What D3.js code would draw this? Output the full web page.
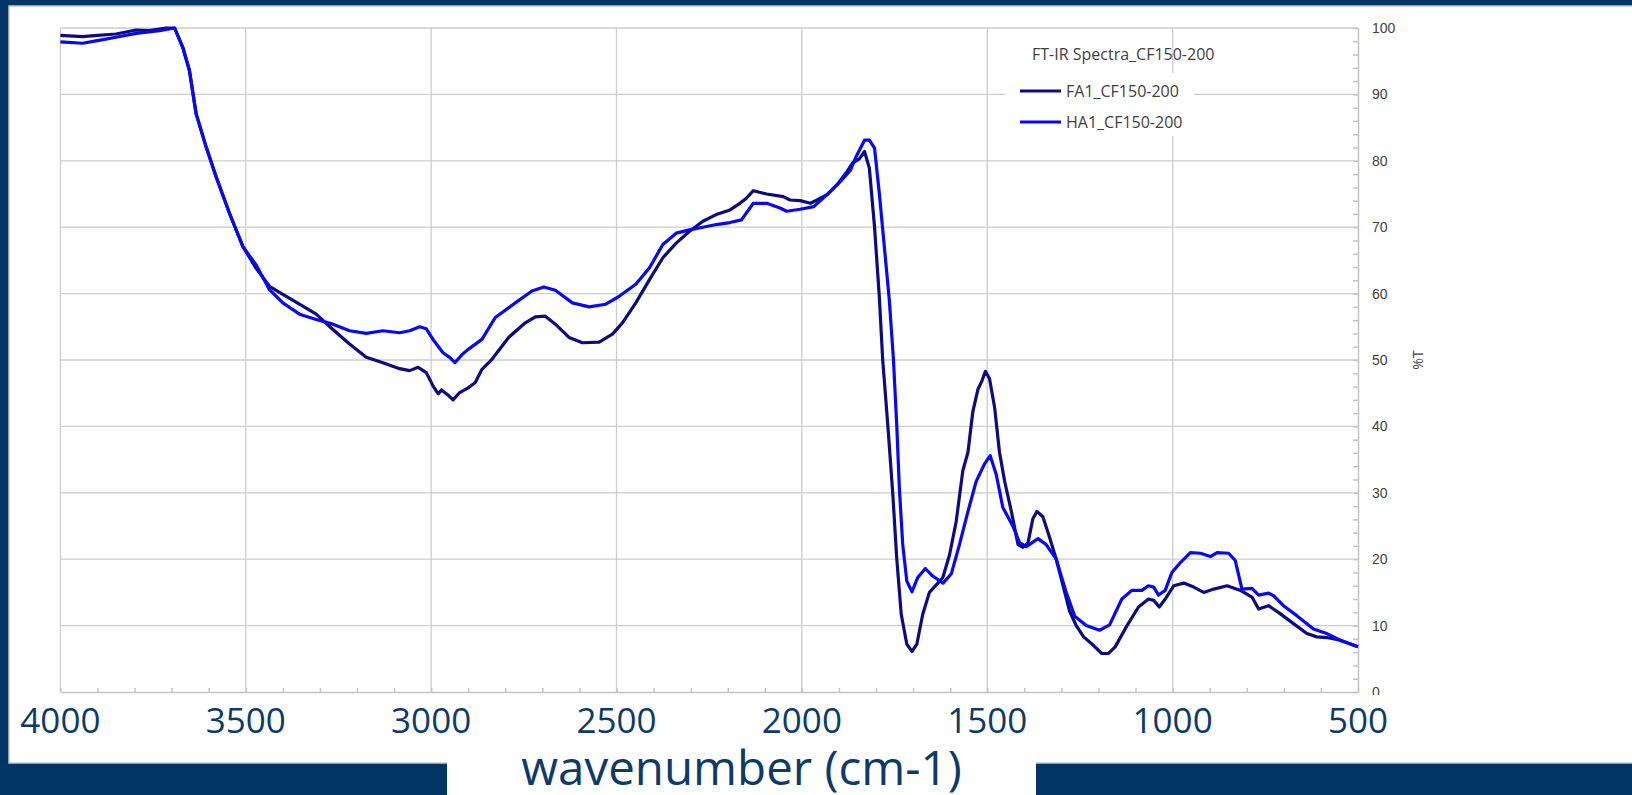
<!DOCTYPE html>
<html>
<head>
<meta charset="utf-8">
<title>FT-IR Spectra_CF150-200</title>
<script src="https://cdn.jsdelivr.net/npm/d3@7"></script>
<style>
  body { margin: 0; background: #003566; }
  svg { display: block; font-family: "Open Sans", sans-serif; }
</style>
</head>
<body>
<div id="chart"></div>
<script>
// ---- data ----
var faWavenumber = [4000,3940,3900,3850,3796,3760,3715,3692,3670,3652,3634,3607,3580,3544,3508,3472,3436,3400,3346,3310,
  3265,3220,3175,3130,3085,3058,3035,3013,2995,2981,2972,2954,2941,2923,2900,2881,2863,2836,2791,2746,
  2719,2692,2665,2628,2592,2547,2511,2484,2448,2411,2375,2339,2303,2267,2231,2194,2167,2149,2131,2095,
  2050,2032,2005,1977,1959,1932,1905,1878,1863,1845,1831,1818,1804,1791,1782,1768,1755,1744,1732,1717,
  1703,1690,1674,1656,1638,1620,1602,1584,1566,1552,1539,1525,1514,1505,1494,1480,1467,1453,1435,1417,
  1404,1390,1377,1366,1350,1332,1314,1296,1278,1260,1240,1213,1191,1173,1155,1123,1092,1065,1051,1036,
  1020,997,970,943,916,889,853,817,786,768,741,710,674,638,611,584,548,500];
var faTransmittance = [98.9,98.7,98.9,99.1,99.7,99.6,100,100,97.1,93.6,87.1,82.1,77.6,72.1,67.1,63.8,61.1,59.9,58.1,56.9,
  54.6,52.4,50.4,49.6,48.7,48.4,48.9,48.1,46.1,44.9,45.5,44.7,44.0,45.1,45.8,46.6,48.6,50.1,53.4,55.6,
  56.5,56.6,55.4,53.4,52.6,52.7,53.9,55.6,58.6,62.1,65.4,67.6,69.4,70.9,71.9,72.6,73.6,74.4,75.5,75.0,
  74.6,74.1,74.0,73.6,74.1,74.9,76.4,78.4,79.7,80.3,81.4,78.9,70,59.4,50,40,30,20,11.7,7.2,
  6.1,7.2,11.7,15,16.1,17.2,20.6,25.6,33.3,36.1,42.2,45.6,46.9,48.3,47.2,42.8,36.1,31.7,27.2,22.2,
  21.8,22.5,26.1,27.2,26.4,23.3,20,16.1,12.2,10,8.3,7.0,5.8,5.8,6.8,10,12.8,14,13.8,12.8,
  14,16,16.4,15.8,15,15.5,16,15.3,14.3,12.5,13,11.8,10.3,8.8,8.3,8.2,7.8,6.8];

var haWavenumber = [4000,3940,3900,3850,3796,3733,3692,3670,3652,3634,3607,3580,3544,3508,3472,3436,3400,3355,3310,3265,
  3220,3175,3130,3085,3058,3031,3013,2995,2968,2950,2936,2915,2900,2863,2827,2773,2728,2696,2665,2619,
  2574,2529,2493,2448,2411,2375,2339,2303,2267,2231,2194,2163,2131,2095,2059,2041,2005,1968,1932,1896,
  1869,1854,1831,1818,1804,1791,1777,1764,1753,1744,1737,1728,1717,1703,1688,1667,1648,1619,1597,1575,
  1552,1530,1507,1492,1476,1458,1431,1413,1395,1363,1341,1314,1287,1264,1233,1197,1170,1137,1110,1083,
  1065,1051,1038,1020,1002,979,952,925,898,880,849,831,813,786,768,741,728,701,665,620,
  584,548,500];
var haTransmittance = [97.9,97.7,98.1,98.6,99.2,99.6,100,97.1,93.6,87.1,82.1,77.6,72.1,67.1,64.3,60.6,58.6,56.9,56.1,55.4,
  54.4,54.0,54.4,54.1,54.4,55.0,54.7,53.1,51.1,50.4,49.6,50.9,51.6,53.1,56.4,58.6,60.4,61.0,60.5,58.6,
  58.0,58.4,59.6,61.4,63.9,67.4,69.1,69.6,70.0,70.4,70.7,71.1,73.6,73.6,72.9,72.4,72.7,73.1,74.9,76.9,
  78.6,80.6,83.1,83.1,81.9,75,66.7,58.9,50,40,30.6,22.2,16.7,15.1,17.2,18.6,17.5,16.4,17.8,22.2,
  27.2,31.7,34.4,35.6,32.8,27.8,25,22.5,21.9,23.1,22.2,20,15,11.4,10,9.3,10.1,14,15.3,15.3,
  16,15.8,14.6,15.3,18,19.5,21,20.9,20.4,21,20.9,19.8,15.5,15.6,14.6,14.9,14.5,13,11.5,9.5,
  8.8,7.8,6.8];

var seriesNames = ["FA1_CF150-200", "HA1_CF150-200"];
var seriesColors = ["#0c0c80", "#0808f4"];
var xMajorTicks = [4000, 3500, 3000, 2500, 2000, 1500, 1000, 500];
var yMajorTicks = [0, 10, 20, 30, 40, 50, 60, 70, 80, 90, 100];
var chartTitle = "FT-IR Spectra_CF150-200";
var xTitle = "wavenumber (cm-1)";
var yTitle = "%T";

// ---- page frame ----
var W = 1632, H = 795;
var svg = d3.select("#chart").append("svg").attr("width", W).attr("height", H);

svg.append("rect").attr("width", W).attr("height", H).attr("fill", "#003566");
svg.append("rect").attr("x", 9).attr("y", 6).attr("width", W - 9 + 2).attr("height", 757)
  .attr("fill", "#ffffff").attr("stroke", "#c3c8ce").attr("stroke-width", 1.5);
svg.append("rect").attr("x", 447).attr("y", 762).attr("width", 589).attr("height", 40)
  .attr("fill", "#ffffff");

// ---- scales ----
var plotLeft = 60.4, plotRight = 1358, plotTop = 28, plotBottom = 692;
var x = d3.scaleLinear().domain([4000, 500]).range([plotLeft, plotRight]);
var y = d3.scaleLinear().domain([0, 100]).range([plotBottom, plotTop]);

// gridlines
var grid = svg.append("g").attr("stroke", "#cdcdcd").attr("stroke-width", 1.3);
grid.selectAll("line.v").data(xMajorTicks.slice(0, -1)).enter().append("line")
  .attr("x1", function (d) { return x(d); }).attr("x2", function (d) { return x(d); })
  .attr("y1", plotTop).attr("y2", plotBottom);
grid.selectAll("line.h").data(yMajorTicks.slice(1)).enter().append("line")
  .attr("x1", plotLeft).attr("x2", plotRight)
  .attr("y1", function (d) { return y(d); }).attr("y2", function (d) { return y(d); });

// bottom axis: line + minor ticks every 100
var xAxis = svg.append("g").attr("transform", "translate(0," + plotBottom + ")")
  .call(d3.axisBottom(x).tickValues(d3.range(4000, 499, -100)).tickSize(-4).tickSizeOuter(0).tickFormat(""));
xAxis.selectAll("path, line").attr("stroke", "#c4c4c4").attr("stroke-width", 1.5);

svg.append("g").selectAll("text").data(xMajorTicks).enter().append("text")
  .attr("x", function (d) { return x(d); }).attr("y", 733)
  .attr("text-anchor", "middle").attr("font-size", 35).attr("fill", "#0e3a68")
  .text(function (d) { return d; });

svg.append("text").attr("x", 741.5).attr("y", 785).attr("text-anchor", "middle")
  .attr("font-size", 47.5).attr("fill", "#0e3a68").text(xTitle);

// right axis: line + minor ticks every 2 (the 0 label is cut by the plot frame)
svg.append("clipPath").attr("id", "yclip").append("rect")
  .attr("x", -10).attr("y", 0).attr("width", 120).attr("height", 695);
var yAxis = svg.append("g").attr("transform", "translate(" + plotRight + ",0)")
  .attr("clip-path", "url(#yclip)")
  .call(d3.axisRight(y).tickValues(d3.range(0, 101, 2)).tickSize(-5).tickSizeOuter(0).tickFormat(""));
yAxis.selectAll("path, line").attr("stroke", "#c4c4c4").attr("stroke-width", 1.5);
yAxis.selectAll("text.lbl").data(yMajorTicks).enter().append("text").attr("class", "lbl")
  .attr("x", 14).attr("y", function (d) { return y(d); }).attr("dy", "0.36em")
  .attr("font-size", 14).attr("fill", "#404040").text(function (d) { return d; });

svg.append("text").attr("transform", "translate(1423,360) rotate(-90)")
  .attr("text-anchor", "middle").attr("font-size", 14).attr("fill", "#404040").text(yTitle);

// ---- spectra ----
var series = [
  d3.zip(faWavenumber, faTransmittance),
  d3.zip(haWavenumber, haTransmittance)
];
var line = d3.line().x(function (d) { return x(d[0]); }).y(function (d) { return y(d[1]); });
svg.append("g").selectAll("path").data(series).enter().append("path")
  .attr("d", line).attr("fill", "none")
  .attr("stroke", function (d, i) { return seriesColors[i]; })
  .attr("stroke-width", 3.2).attr("stroke-linejoin", "round");

// ---- legend ----
svg.append("text").attr("x", 1032).attr("y", 60).attr("font-size", 16).attr("fill", "#404040").text(chartTitle);
var legend = svg.append("g");
legend.append("rect").attr("x", 1005).attr("y", 73).attr("width", 189).attr("height", 63).attr("fill", "#ffffff");
var items = legend.selectAll("g").data(seriesNames).enter().append("g")
  .attr("transform", function (d, i) { return "translate(0," + (91 + i * 31) + ")"; });
items.append("line").attr("x1", 1020).attr("x2", 1061)
  .attr("stroke", function (d, i) { return seriesColors[i]; }).attr("stroke-width", 3);
items.append("text").attr("x", 1066).attr("dy", "0.36em").attr("font-size", 16).attr("fill", "#404040")
  .text(function (d) { return d; });
</script>
</body>
</html>
